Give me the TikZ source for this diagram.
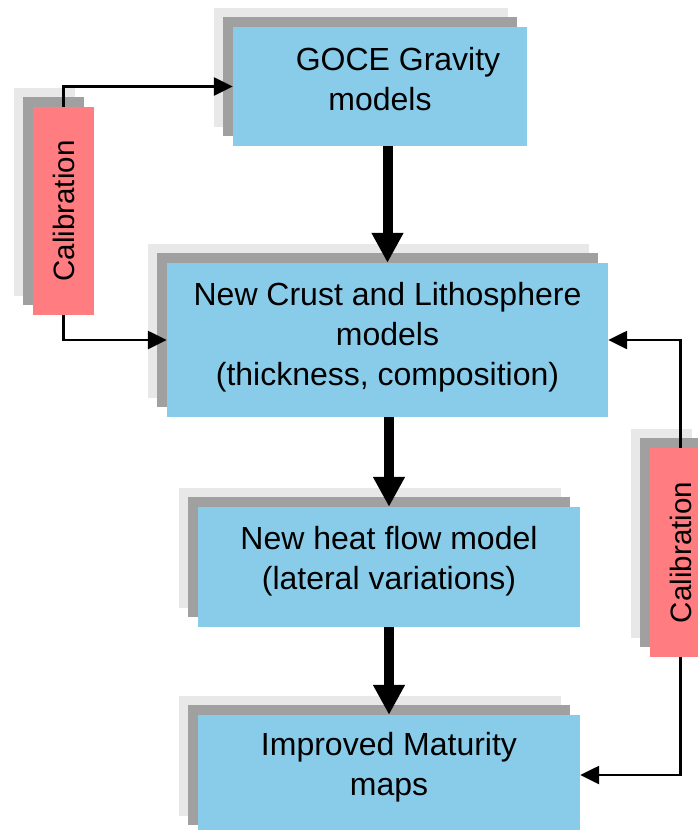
\documentclass[tikz,border=0pt]{standalone}
\usepackage{fontspec}
\setmainfont{Liberation Sans}
\usepackage{xcolor}
\usetikzlibrary{arrows.meta,shadows}
\definecolor{boxblue}{RGB}{137,204,234}
\definecolor{calred}{RGB}{255,124,128}
\definecolor{shadedark}{RGB}{160,160,160}
\definecolor{shadelight}{RGB}{232,232,232}
\tikzset{
twoshadows/.style={general shadow={fill=shadelight,shadow xshift=-19pt,shadow yshift=19pt},general shadow={fill=shadedark,shadow xshift=-10pt,shadow yshift=10pt}},
bluebox/.style={rectangle, fill=boxblue, draw=none, inner sep=0pt, twoshadows, align=center, font=\fontsize{32}{40}\selectfont},
redbox/.style={rectangle, fill=calred, draw=none, inner sep=0pt, twoshadows, minimum width=61pt, font=\fontsize{29.5}{35}\selectfont},
thinarrow/.style={line width=2.5pt, black, -{Triangle[length=19pt,width=18pt]}},
thickarrow/.style={line width=10pt, black, -{Triangle[length=30pt,width=30pt]}},
}
\begin{document}
\begin{tikzpicture}[x=1pt,y=-1pt]
\useasboundingbox (0,0) rectangle (698,830);
\clip (0,0) rectangle (698,830);
\node[bluebox, minimum width=294pt, minimum height=119pt, text depth=16pt] at (380,86.5) (goce) {\hspace*{36pt}GOCE Gravity\\models};
\node[bluebox, minimum width=441pt, minimum height=154pt, text depth=13pt] at (387.5,340) (crust) {New Crust and Lithosphere\\models\\(thickness, composition)};
\node[bluebox, minimum width=382pt, minimum height=120pt, text depth=19pt] at (389,567) (heat) {New heat flow model\\(lateral variations)};
\node[bluebox, minimum width=382pt, minimum height=120pt, text depth=23pt] at (389,775) (mat) {Improved Maturity\\maps};
\node[redbox, minimum height=208pt] at (63.5,211) (calL) {\rotatebox{90}{Calibration}};
\node[redbox, minimum height=209pt] at (680.5,552.5) (calR) {\rotatebox{90}{Calibration}};

% main flow
\draw[thickarrow] (crust.north |- goce.south) -- (crust.north);
\draw[thickarrow] (heat.north |- crust.south) -- (heat.north);
\draw[thickarrow] (heat.south) -- (mat.north);

% calibration loops
\draw[thinarrow] (calL.north) |- (goce.west);
\draw[thinarrow] (calL.south) |- (crust.west);
\draw[thinarrow] (calR.north) |- (crust.east);
\draw[thinarrow] (calR.south) |- (mat.east);
\end{tikzpicture}
\end{document}
